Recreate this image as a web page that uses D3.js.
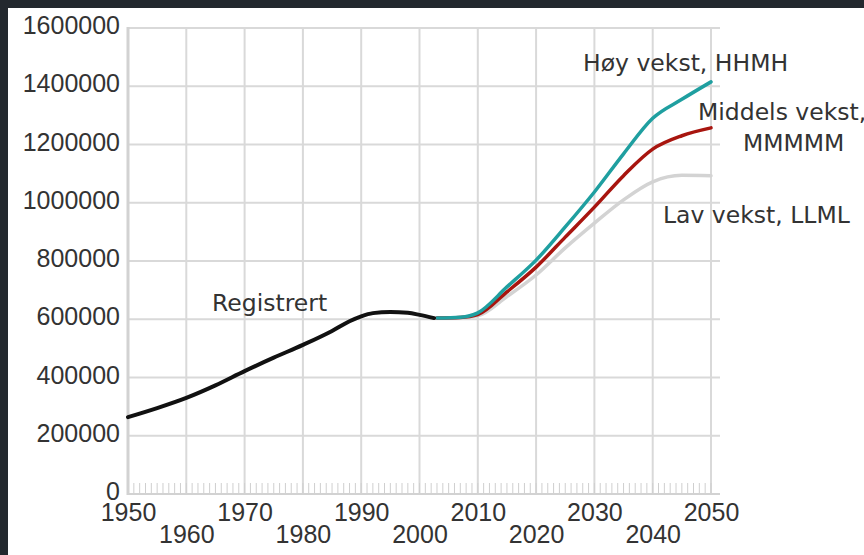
<!DOCTYPE html>
<html>
<head>
<meta charset="utf-8">
<script src="https://cdn.jsdelivr.net/npm/d3@7"></script>
<style>
  html, body { margin: 0; padding: 0; background: #23282e; }
  #chart { position: absolute; left: 8px; top: 8px; width: 856px; height: 547px; background: #fff; overflow: hidden; }
  svg { display: block; font-family: "DejaVu Sans", sans-serif; }
</style>
</head>
<body>
<div id="chart"></div>
<script>
// registered (black)
const regYears  = [1950, 1955, 1960, 1965, 1970, 1975, 1980, 1985, 1988, 1990, 1992, 1995, 1998, 2000, 2002.5];
const regValues = [264000, 295000, 330000, 373000, 422000, 468000, 512000, 560000, 593000, 610000, 621000, 625000, 622000, 615000, 604000];

// projections
const projYears = [2003, 2007, 2010, 2015, 2020, 2025, 2030, 2035, 2040, 2045, 2050];
const highVals  = [604000, 607000, 622000, 711000, 803000, 917000, 1037000, 1168000, 1290000, 1355000, 1415000];
const midVals   = [604000, 606000, 616000, 694000, 779000, 882000, 985000, 1093000, 1184000, 1230000, 1257000];
const lowVals   = [604000, 606000, 612000, 678000, 752000, 845000, 930000, 1010000, 1072000, 1094000, 1093000];

const yTicks = [0, 200000, 400000, 600000, 800000, 1000000, 1200000, 1400000, 1600000];
const xTicks = [1950, 1960, 1970, 1980, 1990, 2000, 2010, 2020, 2030, 2040, 2050];

const W = 856, H = 547;
const svg = d3.select('#chart').append('svg').attr('width', W).attr('height', H);
// the chart div sits at (8,8); work in page coords
const g = svg.append('g').attr('transform', 'translate(-8,-8)');

const x = d3.scaleLinear().domain([1950, 2050]).range([128, 711]);
const y = d3.scaleLinear().domain([0, 1600000]).range([494, 28]);

const gridColor = '#d9d9d9';
const textColor = '#333';

// horizontal grid
g.selectAll('.hgrid').data(yTicks.slice(1))
  .join('line').attr('class', 'hgrid')
  .attr('x1', x(1950)).attr('x2', x(2050) + 9)
  .attr('y1', d => y(d)).attr('y2', d => y(d))
  .attr('stroke', gridColor).attr('stroke-width', 2);

// vertical grid
g.selectAll('.vgrid').data(xTicks.slice(1))
  .join('line').attr('class', 'vgrid')
  .attr('x1', d => x(d)).attr('x2', d => x(d))
  .attr('y1', y(1600000)).attr('y2', y(0))
  .attr('stroke', gridColor).attr('stroke-width', 2);

// yearly minor ticks
g.selectAll('.minor').data(d3.range(1951, 2051))
  .join('line').attr('class', 'minor')
  .attr('x1', d => x(d)).attr('x2', d => x(d))
  .attr('y1', y(0)).attr('y2', y(0) - 11)
  .attr('stroke', '#cfcfcf').attr('stroke-width', 1);

// axis lines
g.append('line')
  .attr('x1', x(1950)).attr('x2', x(1950))
  .attr('y1', y(1600000) - 1).attr('y2', y(0) + 1)
  .attr('stroke', '#d2d2d2').attr('stroke-width', 3);
g.append('line')
  .attr('x1', x(1950)).attr('x2', x(2050) + 9)
  .attr('y1', y(0)).attr('y2', y(0))
  .attr('stroke', '#d2d2d2').attr('stroke-width', 2);

// y axis labels
const yAxis = g.append('g').attr('transform', `translate(${x(1950)},0)`)
  .call(d3.axisLeft(y).tickValues(yTicks).tickFormat(d3.format('d')).tickSize(0).tickPadding(8));
yAxis.select('.domain').remove();
yAxis.selectAll('text')
  .attr('fill', textColor).style('font-size', '25px').attr('dy', '0.22em');

// x axis labels, staggered in two rows
const xAxis = g.append('g').attr('transform', `translate(0,${y(0)})`)
  .call(d3.axisBottom(x).tickValues(xTicks).tickFormat(d3.format('d')).tickSize(0));
xAxis.select('.domain').remove();
xAxis.selectAll('text')
  .attr('fill', textColor).style('font-size', '25px')
  .attr('y', (d, i) => i % 2 === 0 ? 9 : 31);

const line = d3.line().x(d => x(d[0])).y(d => y(d[1])).curve(d3.curveMonotoneX);

const series = [
  { years: projYears, vals: lowVals,  color: '#d3d3d3', w: 3.5 },
  { years: projYears, vals: midVals,  color: '#a8150f', w: 3.5 },
  { years: projYears, vals: highVals, color: '#1f9fa0', w: 3.5 },
  { years: regYears,  vals: regValues, color: '#111111', w: 4 },
];

g.selectAll('.series').data(series)
  .join('path').attr('class', 'series')
  .attr('d', s => line(s.years.map((yr, i) => [yr, s.vals[i]])))
  .attr('fill', 'none')
  .attr('stroke', s => s.color)
  .attr('stroke-width', s => s.w)
  .attr('stroke-linecap', 'round');

// annotations
const notes = [
  { text: 'Registrert',       px: 212, py: 311 },
  { text: 'Høy vekst, HHMH',  px: 583, py: 71 },
  { text: 'Middels vekst,',   px: 698, py: 120 },
  { text: 'MMMMM',            px: 743, py: 151 },
  { text: 'Lav vekst, LLML',  px: 663, py: 223 },
];
g.selectAll('.note').data(notes)
  .join('text').attr('class', 'note')
  .attr('x', d => d.px).attr('y', d => d.py)
  .text(d => d.text)
  .attr('fill', textColor).style('font-size', '23.5px');
</script>
</body>
</html>
